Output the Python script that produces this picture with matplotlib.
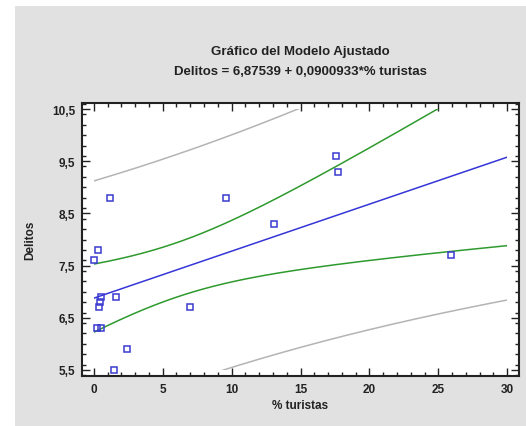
import numpy as np
import matplotlib
matplotlib.use("Agg")
import matplotlib.pyplot as plt
from matplotlib.patches import Rectangle
from matplotlib.ticker import MultipleLocator, FuncFormatter

# ---- data ----
turistas = [0.0, 0.3, 1.2, 0.5, 0.45, 0.4, 1.6, 0.25, 0.55, 2.4, 1.5, 7.0, 9.6, 13.1, 17.6, 17.7, 25.9]
delitos  = [7.6, 7.8, 8.8, 6.9, 6.8, 6.7, 6.9, 6.3, 6.3, 5.9, 5.5, 6.7, 8.8, 8.3, 9.6, 9.3, 7.7]
intercept = 6.87539
slope = 0.0900933
t_crit = 2.131  # t(0.975, df=15)

title1 = "Gráfico del Modelo Ajustado"
title2 = "Delitos = 6,87539 + 0,0900933*% turistas"
xlabel = "% turistas"
ylabel = "Delitos"

x = np.array(turistas)
y = np.array(delitos)
n = len(x)
resid = y - (intercept + slope * x)
s = np.sqrt(np.sum(resid ** 2) / (n - 2))
xbar = x.mean()
sxx = np.sum((x - xbar) ** 2)

xg = np.linspace(0, 30, 300)
fit = intercept + slope * xg
se_mean = s * np.sqrt(1.0 / n + (xg - xbar) ** 2 / sxx)
se_pred = s * np.sqrt(1.0 + 1.0 / n + (xg - xbar) ** 2 / sxx)

plt.rcParams['font.family'] = ['Liberation Sans', 'DejaVu Sans']
plt.rcParams['font.weight'] = 'bold'

fig = plt.figure(figsize=(5.26, 4.27), dpi=100)
fig.patch.set_facecolor('white')
fig.patches.append(Rectangle((15 / 526, 0), 1, 1 - 7 / 427, transform=fig.transFigure,
                             facecolor='#e1e1e1', edgecolor='none', zorder=-10))

ax = fig.add_axes([82 / 526, 1 - 377 / 427, (519 - 82) / 526, (377 - 104) / 427])
ax.set_facecolor('white')

clip = Rectangle((0, 5.5), 30, 5.0, transform=ax.transData, facecolor='none', edgecolor='none')
ax.add_patch(clip)

lw = 1.1
for yy, c in [(fit + t_crit * se_pred, '#b4b4b4'), (fit - t_crit * se_pred, '#b4b4b4'),
              (fit + t_crit * se_mean, '#2e9a2e'), (fit - t_crit * se_mean, '#2e9a2e'),
              (fit, '#3535d8')]:
    ln, = ax.plot(xg, yy, color=c, lw=lw)
    ln.set_clip_path(clip)

ax.plot(x, y, linestyle='none', marker='s', markersize=4.3, markerfacecolor='none',
        markeredgecolor='#3a3ad0', markeredgewidth=1.1)

ax.set_xlim(-0.85, 30.85)
ax.set_ylim(5.385, 10.615)
ax.xaxis.set_major_locator(MultipleLocator(5))
ax.xaxis.set_minor_locator(MultipleLocator(1))
ax.set_yticks([5.5, 6.5, 7.5, 8.5, 9.5, 10.5])
ax.yaxis.set_minor_locator(MultipleLocator(0.2))
ax.yaxis.set_major_formatter(FuncFormatter(lambda v, p: f"{v:.1f}".replace('.', ',')))
ax.xaxis.set_major_formatter(FuncFormatter(lambda v, p: f"{v:.0f}"))
ax.tick_params(which='both', direction='in', top=True, right=True, colors='#222222',
               labelsize=8.5, width=1.0)
ax.tick_params(which='major', length=6, pad=5)
ax.tick_params(which='minor', length=3)
for sp in ax.spines.values():
    sp.set_linewidth(1.5)
    sp.set_color('#222222')
for lab in ax.get_xticklabels() + ax.get_yticklabels():
    lab.set_fontweight('bold')

ax.set_xlabel(xlabel, fontsize=8.5, fontweight='bold', color='#222222', labelpad=3)
ax.set_ylabel(ylabel, fontsize=8.5, fontweight='bold', color='#222222', labelpad=11)

cx = (82 + 519) / 2 / 526
fig.text(cx, 1 - 52 / 427, title1, ha='center', va='center', fontsize=9.5, fontweight='bold', color='#222222')
fig.text(cx, 1 - 72 / 427, title2, ha='center', va='center', fontsize=9.5, fontweight='bold', color='#222222')

fig.savefig('out.png', dpi=100, facecolor=fig.get_facecolor())
